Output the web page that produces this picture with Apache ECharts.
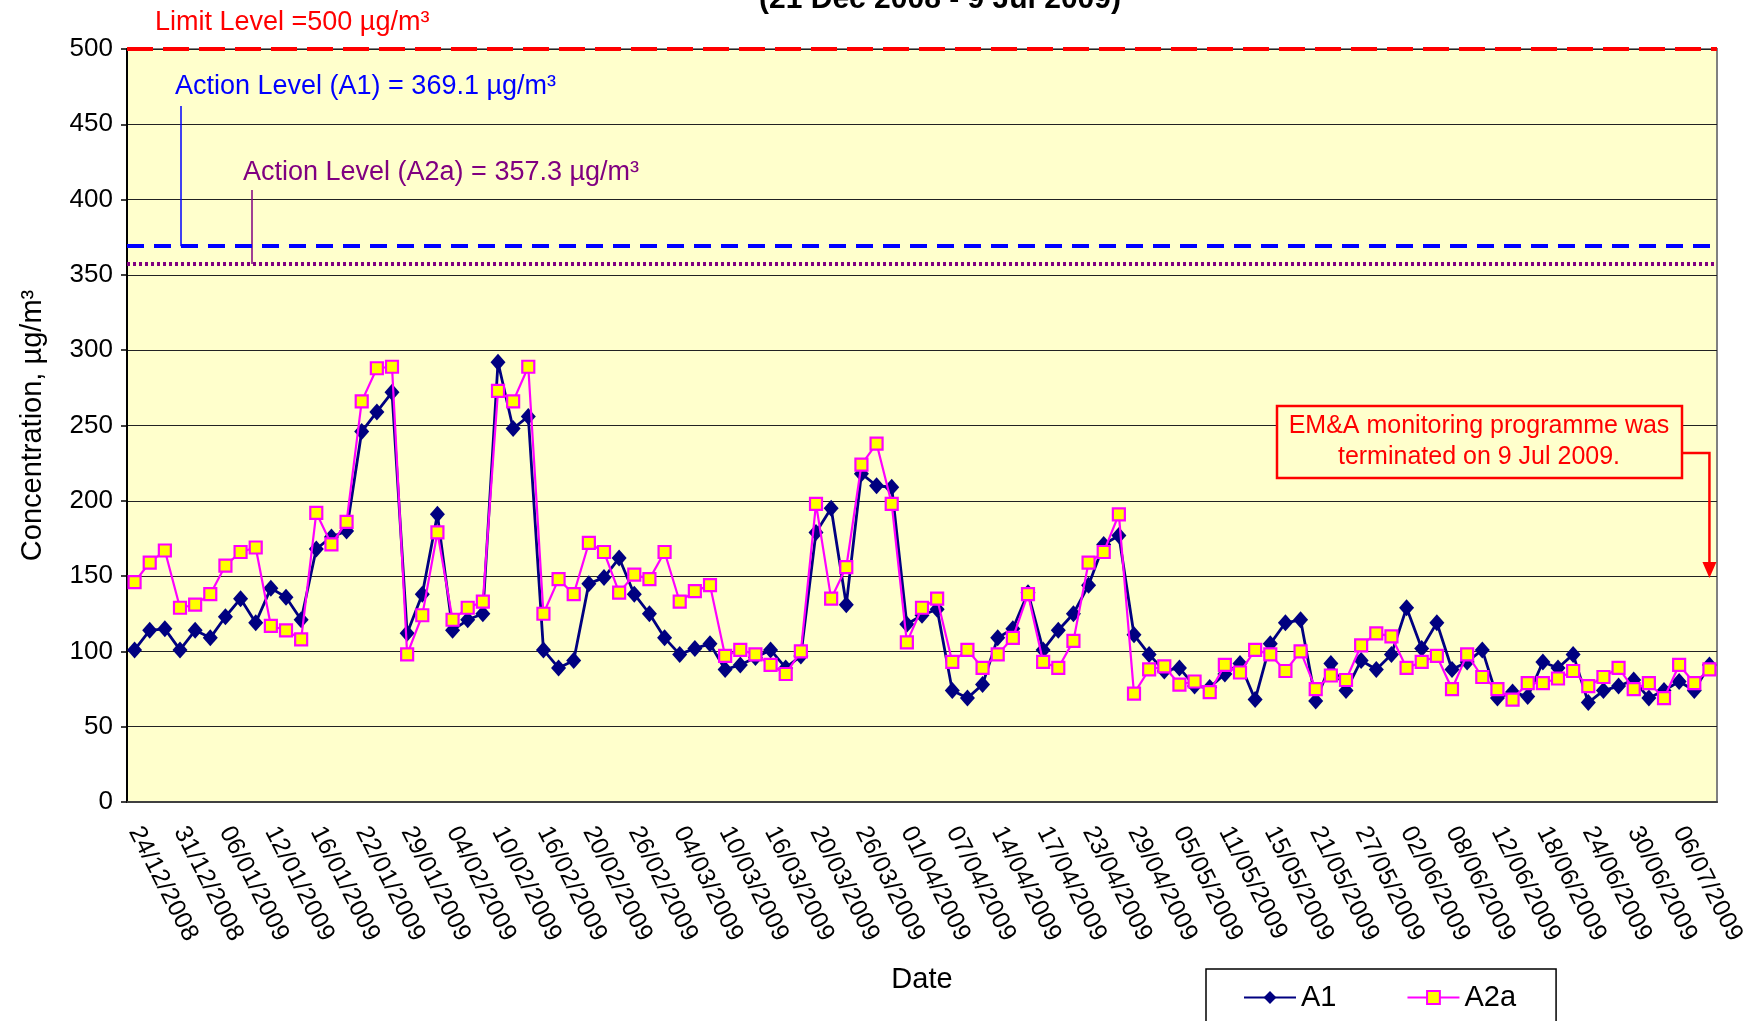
<!DOCTYPE html>
<html>
<head>
<meta charset="utf-8">
<title>A1 / A2a concentration</title>
<script src="https://cdn.jsdelivr.net/npm/echarts@6/dist/echarts.min.js"></script>
<style>
  html, body { margin: 0; padding: 0; background: #fff; }
  #main { width: 1751px; height: 1021px; }
</style>
</head>
<body>
<div id="main"></div>
<script>
// monitoring days, three hourly readings per day
var sampleDates = [
  '24/12/2008', '31/12/2008', '06/01/2009', '12/01/2009', '16/01/2009', '22/01/2009',
  '29/01/2009', '04/02/2009', '10/02/2009', '16/02/2009', '20/02/2009', '26/02/2009',
  '04/03/2009', '10/03/2009', '16/03/2009', '20/03/2009', '26/03/2009', '01/04/2009',
  '07/04/2009', '14/04/2009', '17/04/2009', '23/04/2009', '29/04/2009', '05/05/2009',
  '11/05/2009', '15/05/2009', '21/05/2009', '27/05/2009', '02/06/2009', '08/06/2009',
  '12/06/2009', '18/06/2009', '24/06/2009', '30/06/2009', '06/07/2009'
];
var readingsPerDay = 3;

var a1Values = [
  101, 114, 115, 101, 114, 109, 123, 135, 119, 142, 136, 121, 168, 176, 180, 246, 259, 272,
  112, 138, 191, 114, 121, 125, 292, 248, 256, 101, 89, 94, 145, 149, 162, 138, 125, 109,
  98, 102, 105, 88, 91, 96, 101, 89, 97, 179, 195, 131, 218, 210, 209, 118, 124, 128,
  74, 69, 78, 109, 115, 139, 101, 114, 125, 144, 171, 177, 111, 98, 87, 89, 77, 76,
  85, 92, 68, 105, 119, 121, 67, 92, 74, 94, 88, 98, 129, 102, 119, 88, 93, 101,
  69, 73, 70, 93, 89, 98, 66, 74, 77, 81, 69, 74, 80, 74, 91
];
var a2aValues = [
  146, 159, 167, 129, 131, 138, 157, 166, 169, 117, 114, 108, 192, 171, 186, 266, 288, 289,
  98, 124, 179, 121, 129, 133, 273, 266, 289, 125, 148, 138, 172, 166, 139, 151, 148, 166,
  133, 140, 144, 97, 101, 98, 91, 85, 100, 198, 135, 156, 224, 238, 198, 106, 129, 135,
  93, 101, 89, 98, 109, 138, 93, 89, 107, 159, 166, 191, 72, 88, 90, 78, 80, 73,
  91, 86, 101, 98, 87, 100, 75, 84, 81, 104, 112, 110, 89, 93, 97, 75, 98, 83,
  75, 68, 79, 79, 82, 87, 77, 83, 89, 75, 79, 69, 91, 79, 88
];

var limitLevel = 500;
var actionLevelA1 = 369.1;
var actionLevelA2a = 357.3;

var categories = [];
sampleDates.forEach(function (d) {
  for (var k = 0; k < readingsPerDay; k++) categories.push(d);
});

var FONT = 'Liberation Sans, Arial, sans-serif';
var myChart = echarts.init(document.getElementById('main'));

var option = {
  animation: false,
  backgroundColor: '#ffffff',
  textStyle: { fontFamily: FONT },
  grid: {
    left: 127, right: 34, top: 49, bottom: 219,
    show: true,
    backgroundColor: '#FFFFCC',
    borderColor: '#808080',
    borderWidth: 2
  },
  legend: {
    data: ['A1', 'A2a'],
    left: 1206, top: 969,
    padding: [14, 40, 40, 37],
    itemGap: 70,
    itemWidth: 52,
    itemHeight: 16,
    borderColor: '#000',
    borderWidth: 1.5,
    backgroundColor: '#fff',
    textStyle: { fontSize: 29, color: '#000', fontFamily: FONT }
  },
  xAxis: {
    type: 'category',
    data: categories,
    boundaryGap: true,
    name: 'Date',
    nameLocation: 'middle',
    nameGap: 163,
    nameTextStyle: { fontSize: 29, color: '#000', fontFamily: FONT },
    axisLine: { lineStyle: { color: '#404040', width: 2 } },
    axisTick: { interval: 2, length: 8, lineStyle: { color: '#404040', width: 1.5 } },
    axisLabel: { interval: 2, rotate: -63, fontSize: 25, color: '#000', margin: 26, fontFamily: FONT },
    splitLine: { show: false }
  },
  yAxis: {
    type: 'value',
    min: 0, max: 500, interval: 50,
    name: 'Concentration, µg/m³',
    nameLocation: 'middle',
    nameGap: 80,
    nameTextStyle: { fontSize: 29, color: '#000', fontFamily: FONT },
    axisLine: { show: true, lineStyle: { color: '#000', width: 2 } },
    axisTick: { show: true, length: 6, lineStyle: { color: '#000', width: 1.5 } },
    axisLabel: { fontSize: 26, color: '#000', margin: 14, fontFamily: FONT },
    splitLine: { lineStyle: { color: '#222', width: 1.2 } }
  },
  series: [
    {
      name: 'A1',
      type: 'line',
      data: a1Values,
      symbol: 'diamond',
      symbolSize: [15, 17],
      showAllSymbol: true,
      lineStyle: { color: '#000080', width: 2.8 },
      itemStyle: { color: '#000080' },
      z: 2,
      markLine: {
        silent: true,
        symbol: ['none', 'none'],
        label: { show: false },
        data: [
          { yAxis: limitLevel, lineStyle: { color: '#FF0000', width: 4, type: [26, 10] } },
          { yAxis: actionLevelA1, lineStyle: { color: '#0000FF', width: 4, type: [17, 10] } },
          { yAxis: actionLevelA2a, lineStyle: { color: '#800080', width: 4, type: [3, 3] } }
        ]
      }
    },
    {
      name: 'A2a',
      type: 'line',
      data: a2aValues,
      symbol: 'rect',
      symbolSize: 12,
      showAllSymbol: true,
      lineStyle: { color: '#FF00FF', width: 2.2 },
      itemStyle: { color: '#FFFF00', borderColor: '#FF00FF', borderWidth: 2.2 },
      z: 3
    }
  ]
};
myChart.setOption(option);

// labels for the guide lines, with leader lines down to them
var yA1 = myChart.convertToPixel({ yAxisIndex: 0 }, actionLevelA1);
var yA2a = myChart.convertToPixel({ yAxisIndex: 0 }, actionLevelA2a);
var lastX = myChart.convertToPixel({ xAxisIndex: 0 }, categories.length - 1);
var y150 = myChart.convertToPixel({ yAxisIndex: 0 }, 150);

myChart.setOption({
  graphic: [
    {
      type: 'text', position: [940, 0],
      style: { text: '(21 Dec 2008 - 9 Jul 2009)', font: 'bold 30px ' + FONT, fill: '#000', textAlign: 'center', textVerticalAlign: 'middle' }
    },
    {
      type: 'text', position: [155, 23],
      style: { text: 'Limit Level =500 µg/m³', font: '27px ' + FONT, fill: '#FF0000', textAlign: 'left', textVerticalAlign: 'middle' }
    },
    {
      type: 'text', position: [175, 87],
      style: { text: 'Action Level (A1) = 369.1 µg/m³', font: '27px ' + FONT, fill: '#0000FF', textAlign: 'left', textVerticalAlign: 'middle' }
    },
    {
      type: 'line', shape: { x1: 181, y1: 106, x2: 181, y2: yA1 },
      style: { stroke: '#0000FF', lineWidth: 1.5 }
    },
    {
      type: 'text', position: [243, 173],
      style: { text: 'Action Level (A2a) = 357.3 µg/m³', font: '27px ' + FONT, fill: '#800080', textAlign: 'left', textVerticalAlign: 'middle' }
    },
    {
      type: 'line', shape: { x1: 252, y1: 190, x2: 252, y2: yA2a },
      style: { stroke: '#800080', lineWidth: 1.5 }
    },
    {
      type: 'rect', shape: { x: 1277, y: 406, width: 405, height: 72 },
      style: { fill: '#FFFFCC', stroke: '#FF0000', lineWidth: 2.5 }
    },
    {
      type: 'text', position: [1479, 442],
      style: {
        text: 'EM&A monitoring programme was\nterminated on 9 Jul 2009.',
        font: '25px ' + FONT, fill: '#FF0000', textAlign: 'center', textVerticalAlign: 'middle', lineHeight: 31
      }
    },
    {
      type: 'polyline', shape: { points: [[1682, 453], [lastX, 453], [lastX, y150 - 12]] },
      style: { stroke: '#FF0000', lineWidth: 2.5, fill: null }
    },
    {
      type: 'polygon', shape: { points: [[lastX - 7, y150 - 14], [lastX + 7, y150 - 14], [lastX, y150 + 2]] },
      style: { fill: '#FF0000' }
    }
  ]
});
</script>
</body>
</html>
